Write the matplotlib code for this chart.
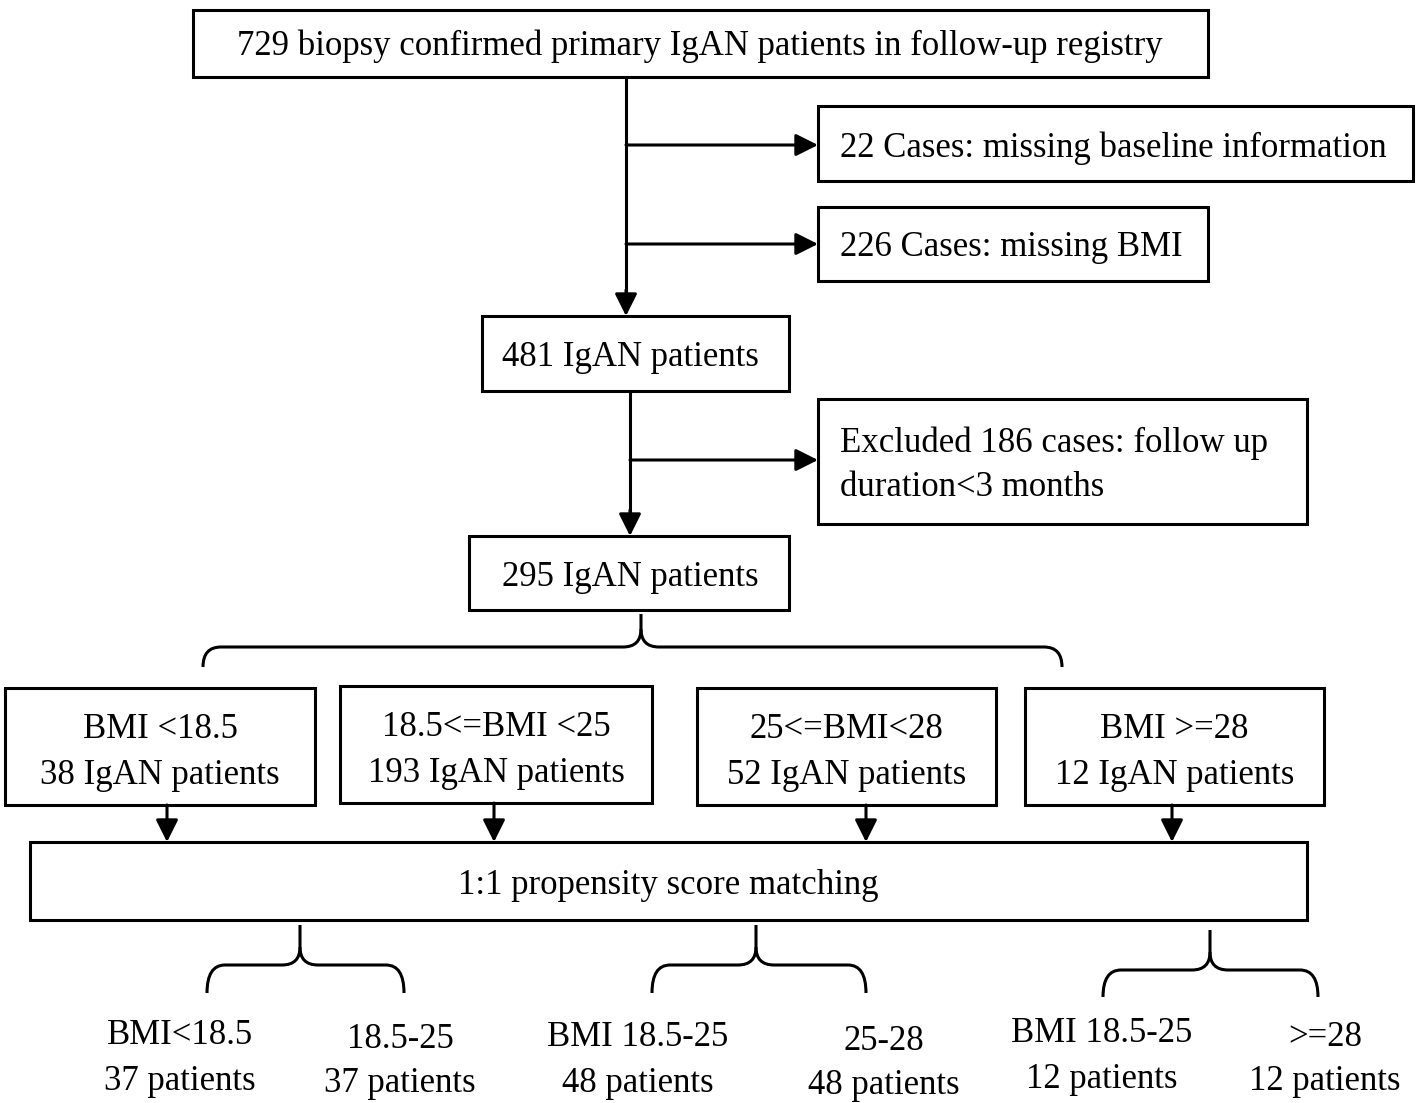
import matplotlib.pyplot as plt
from matplotlib.patches import Rectangle, PathPatch, FancyArrowPatch
from matplotlib.path import Path

plt.rcParams['font.family'] = ['Liberation Serif', 'DejaVu Serif']

# flow counts
total = 729
excluded_baseline = 22
excluded_bmi = 226
after_bmi = 481
excluded_followup = 186
final = 295
group_labels = ['BMI <18.5', '18.5<=BMI <25', '25<=BMI<28', 'BMI >=28']
group_counts = [38, 193, 52, 12]
matched_left = ['BMI<18.5', 'BMI 18.5-25', 'BMI 18.5-25']
matched_right = ['18.5-25', '25-28', '>=28']
matched_counts = [37, 48, 12]

W, H = 1418, 1103
fig = plt.figure(figsize=(W / 100, H / 100), dpi=100)
ax = fig.add_axes([0, 0, 1, 1])
ax.set_xlim(0, W)
ax.set_ylim(H, 0)
ax.axis('off')

LW = 2.2
FS = 25


def box(x0, y0, x1, y1):
    ax.add_patch(Rectangle((x0, y0), x1 - x0, y1 - y0, fill=False, ec='black', lw=LW))


def line(x0, y0, x1, y1):
    ax.plot([x0, x1], [y0, y1], color='black', lw=LW, solid_capstyle='butt')


def arrow(x0, y0, x1, y1):
    ax.add_patch(FancyArrowPatch((x0, y0), (x1, y1), arrowstyle='-|>,head_length=0.9,head_width=0.45',
                                 mutation_scale=15, color='black', lw=LW, shrinkA=0, shrinkB=0))


def brace(cx, ytop, ymid, xl, xr, ybot, r=18):
    verts = [(xl, ybot), (xl, ymid), (xl + r, ymid),
             (cx - r, ymid), (cx, ymid), (cx, ymid - r),
             (cx, ytop)]
    codes = [Path.MOVETO, Path.CURVE3, Path.CURVE3,
             Path.LINETO, Path.CURVE3, Path.CURVE3,
             Path.LINETO]
    ax.add_patch(PathPatch(Path(verts, codes), fill=False, ec='black', lw=LW))
    verts = [(cx, ymid - r), (cx, ymid), (cx + r, ymid),
             (xr - r, ymid), (xr, ymid), (xr, ybot)]
    codes = [Path.MOVETO, Path.CURVE3, Path.CURVE3,
             Path.LINETO, Path.CURVE3, Path.CURVE3]
    ax.add_patch(PathPatch(Path(verts, codes), fill=False, ec='black', lw=LW))


def txt(x, y, s, ha='center'):
    ax.text(x, y + 3, s, ha=ha, va='center', fontsize=FS)


# top box
box(193, 10, 1208, 77)
txt(700, 43, f'{total} biopsy confirmed primary IgAN patients in follow-up registry')

line(626, 77, 626, 300)
arrow(626, 290, 626, 316)
arrow(626, 145, 818, 145)
arrow(626, 244, 818, 244)

box(818, 106, 1413, 181)
txt(840, 145, f'{excluded_baseline} Cases: missing baseline information', ha='left')
box(818, 207, 1208, 281)
txt(840, 244, f'{excluded_bmi} Cases: missing BMI', ha='left')

box(482, 316, 789, 391)
txt(630, 355, f'{after_bmi} IgAN patients')

line(630, 391, 630, 520)
arrow(630, 510, 630, 536)
arrow(630, 460, 818, 460)

box(818, 399, 1307, 524)
txt(840, 440, f'Excluded {excluded_followup} cases: follow up', ha='left')
txt(840, 484, 'duration<3 months', ha='left')

box(469, 536, 789, 610)
txt(630, 574, f'{final} IgAN patients')

brace(641, 614, 647, 203, 1062, 667)

# group boxes
group_boxes = [(5, 688, 315, 805), (340, 686, 652, 803), (697, 688, 996, 805), (1025, 688, 1324, 805)]
group_arrow_x = [167, 494, 866, 1172]
for (x0, y0, x1, y1), lab, n, ax_x in zip(group_boxes, group_labels, group_counts, group_arrow_x):
    box(x0, y0, x1, y1)
    cx = (x0 + x1) / 2
    txt(cx, y0 + 38, lab)
    txt(cx, y0 + 84, f'{n} IgAN patients')
    arrow(ax_x, y1, ax_x, 842)

box(30, 842, 1307, 920)
txt(668, 882, '1:1 propensity score matching')

# lower braces
brace_specs = [(300, 925, 965, 207, 404, 993),
               (756, 925, 965, 652, 866, 993),
               (1210, 930, 970, 1103, 1318, 997)]
left_x = [180, 638, 1102]
right_x = [400, 884, 1325]
text_y = [1033, 1035, 1031]
for (cx, yt, ym, xl, xr, yb), ll, rl, n, lx, rx, ty in zip(brace_specs, matched_left, matched_right,
                                                          matched_counts, left_x, right_x, text_y):
    brace(cx, yt, ym, xl, xr, yb)
    txt(lx, ty, ll)
    txt(lx, ty + 45, f'{n} patients')
    txt(rx, ty + 3, rl)
    txt(rx, ty + 47, f'{n} patients')

fig.savefig('out.png', dpi=100)
